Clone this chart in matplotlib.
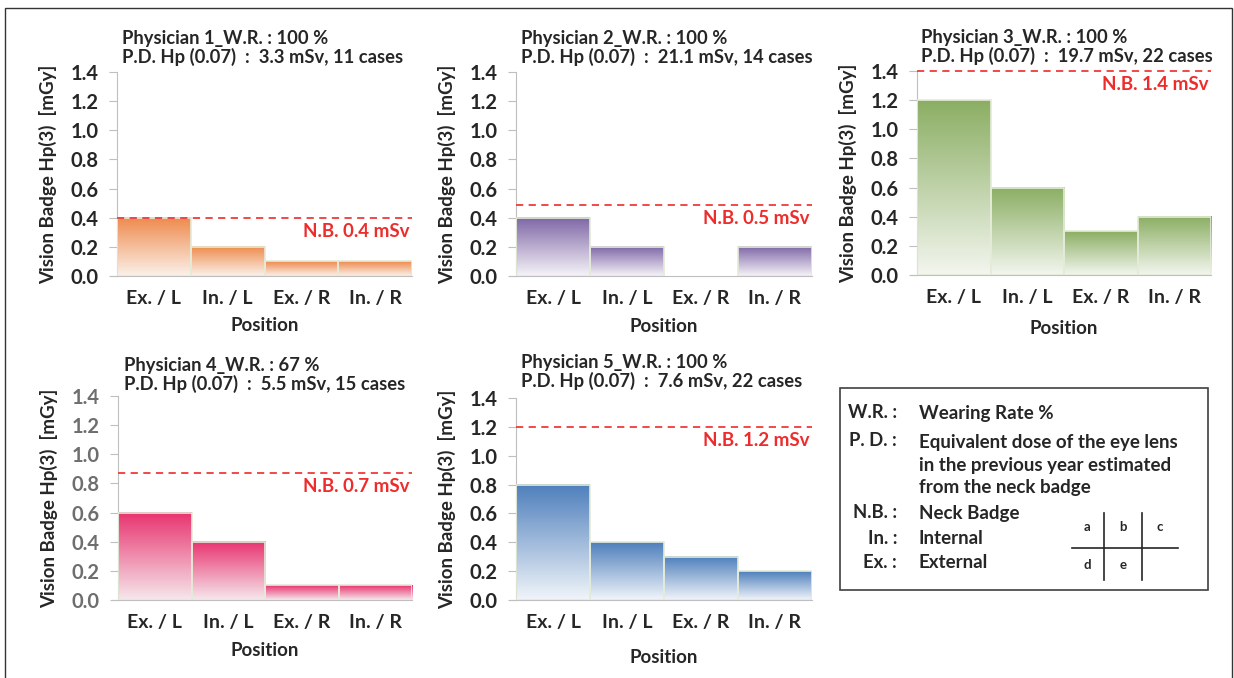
import numpy as np
import matplotlib
matplotlib.use('Agg')
import matplotlib.pyplot as plt
from matplotlib.colors import LinearSegmentedColormap
from matplotlib.patches import Rectangle

plt.rcParams['font.family'] = ['Lato', 'DejaVu Sans']
plt.rcParams['font.weight'] = 'bold'

W, H = 1234, 678

positions = ['Ex. / L', 'In. / L', 'Ex. / R', 'In. / R']
doses_p1 = [0.4, 0.2, 0.1, 0.1]
doses_p2 = [0.4, 0.2, 0.0, 0.2]
doses_p3 = [1.2, 0.6, 0.3, 0.4]
doses_p4 = [0.6, 0.4, 0.1, 0.1]
doses_p5 = [0.8, 0.4, 0.3, 0.2]
nb_line = [0.4, 0.49, 1.4, 0.875, 1.2]
nb_label = ['N.B. 0.4 mSv', 'N.B. 0.5 mSv', 'N.B. 1.4 mSv', 'N.B. 0.7 mSv', 'N.B. 1.2 mSv']
titles = [
    'Physician 1_W.R. : 100 %\nP.D. Hp (0.07)  :  3.3 mSv, 11 cases',
    'Physician 2_W.R. : 100 %\nP.D. Hp (0.07)  :  21.1 mSv, 14 cases',
    'Physician 3_W.R. : 100 %\nP.D. Hp (0.07)  :  19.7 mSv, 22 cases',
    'Physician 4_W.R. : 67 %\nP.D. Hp (0.07)  :  5.5 mSv, 15 cases',
    'Physician 5_W.R. : 100 %\nP.D. Hp (0.07)  :  7.6 mSv, 22 cases',
]
all_doses = [doses_p1, doses_p2, doses_p3, doses_p4, doses_p5]

# top colour, bottom colour of the gradient
grads = [('#EE8A4C', '#FBF1EA'), ('#7E66A6', '#F6F3F8'), ('#8BAE63', '#F3F6EF'),
         ('#E8336F', '#F6E8EC'), ('#4E7FBC', '#F1F5FA')]
tick_colors = ['#262626', '#262626', '#262626', '#6E6E6E', '#262626']

# axes boxes in pixels: left, top(1.4), right, bottom(0.0)
boxes = [(117, 72, 412, 276), (516, 72, 812, 276), (917, 71, 1211, 275),
         (118, 396, 412, 600), (516, 398, 812, 600)]
title_xy = [(122, 48), (521, 48), (921, 47), (124, 375), (521, 372)]
xlab_pad = [7, 8, 10, 8, 13]


def px(x, y):
    return x / W, 1 - y / H


fig = plt.figure(figsize=(W / 100, H / 100), dpi=100)

# outer frame
fig.add_artist(Rectangle(px(5, 690), (1232 - 5) / W, (690 - 8) / H,
                         transform=fig.transFigure, fill=False, ec='#333333', lw=1))

for i in range(5):
    l, t, r, b = boxes[i]
    ax = fig.add_axes([l / W, 1 - b / H, (r - l) / W, (b - t) / H])
    cmap = LinearSegmentedColormap.from_list('g%d' % i, [grads[i][1], grads[i][0]])
    grad = np.linspace(1, 0, 256).reshape(-1, 1)
    for j, v in enumerate(all_doses[i]):
        if v <= 0:
            continue
        ax.imshow(grad, extent=[j - 0.5, j + 0.5, 0, v], aspect='auto', cmap=cmap,
                  zorder=2, interpolation='bilinear')
        ax.add_patch(Rectangle((j - 0.5, 0), 1, v, fill=False, ec='#E4EBD8', lw=1.2, zorder=3))
    ax.plot([-0.5, 3.5], [nb_line[i]] * 2, ls=(0, (4, 3)), color='#F03A3A', lw=1.3,
            zorder=6, clip_on=False)
    ax.text(3.47, nb_line[i] - 0.035, nb_label[i], color='#EE2C2C', fontsize=13.5,
            fontweight='bold', ha='right', va='top', zorder=5)
    ax.set_xlim(-0.5, 3.5)
    ax.set_ylim(0, 1.4)
    ax.set_yticks(np.arange(0, 1.41, 0.2))
    ax.set_yticklabels(['%.1f' % v for v in np.arange(0, 1.41, 0.2)])
    ax.set_xticks(range(4))
    ax.set_xticklabels(positions)
    for s in ['top', 'right']:
        ax.spines[s].set_visible(False)
    ax.spines['left'].set_color('#BFBFBF')
    ax.spines['bottom'].set_color('#BFBFBF')
    ax.spines['bottom'].set_bounds(-0.5 - 6 / (r - l) * 4, 3.5)
    ax.tick_params(axis='y', length=6, color='#BFBFBF', labelsize=14.5, labelcolor=tick_colors[i], pad=7)
    ax.tick_params(axis='x', length=0, labelsize=14, labelcolor='#262626', pad=10)
    ax.set_xlabel('Position', fontsize=13.5, fontweight='bold', color='#262626', labelpad=xlab_pad[i])
    ax.set_ylabel('Vision Badge Hp(3)  [mGy]', fontsize=13.5, fontweight='bold', color='#262626', labelpad=10)
    tx, ty = title_xy[i]
    fig.text(*px(tx, ty), titles[i], fontsize=13.2, fontweight='bold', color='#262626',
             ha='left', va='center', linespacing=1.1)

# legend box
fig.add_artist(Rectangle(px(840, 590), (1208 - 840) / W, (590 - 388) / H,
                         transform=fig.transFigure, fill=False, ec='#404040', lw=1.2))
keys = ['W.R. :', 'P. D. :', 'N.B. :', 'In. :', 'Ex. :']
descs = ['Wearing Rate %', 'Equivalent dose of the eye lens\nin the previous year estimated\nfrom the neck badge',
         'Neck Badge', 'Internal', 'External']
key_y = [413, 440, 513, 538, 563]
desc_y = [413, 465, 513, 538, 563]
for k, d, ky, dy in zip(keys, descs, key_y, desc_y):
    fig.text(*px(897, ky), k, fontsize=13.3, fontweight='bold', color='#262626', ha='right', va='center')
    fig.text(*px(919, dy), d, fontsize=13.5, fontweight='bold', color='#262626', ha='left', va='center',
             linespacing=1.4)

# position layout grid
for xv in [1104, 1142]:
    fig.add_artist(plt.Line2D([xv / W] * 2, [1 - 513 / H, 1 - 580 / H], transform=fig.transFigure,
                              color='#262626', lw=1.2))
fig.add_artist(plt.Line2D([1072 / W, 1178 / W], [1 - 548 / H] * 2, transform=fig.transFigure,
                          color='#262626', lw=1.2))
for lab, (x, y) in zip('abcde', [(1087, 527), (1123, 527), (1160, 527), (1087, 565), (1123, 565)]):
    fig.text(*px(x, y), lab, fontsize=9.5, fontweight='bold', color='#262626', ha='center', va='center')

fig.savefig('out.png', dpi=100)
